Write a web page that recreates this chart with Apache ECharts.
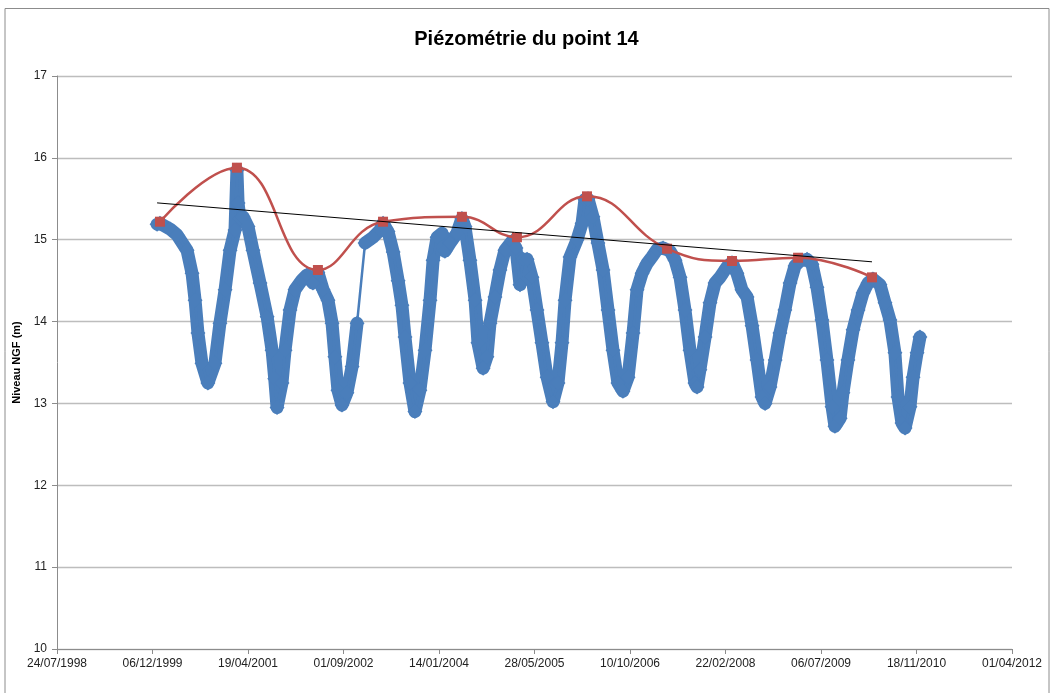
<!DOCTYPE html>
<html>
<head>
<meta charset="utf-8">
<script src="https://cdn.jsdelivr.net/npm/echarts@6/dist/echarts.min.js"></script>
<style>
  html, body { margin: 0; padding: 0; background: #fff; }
  #chart { width: 1053px; height: 693px; }
</style>
</head>
<body>
<div id="chart"></div>
<script>
const blueDates = [
  "1999-12-30", "2000-01-14", "2000-03-07", "2000-04-12", "2000-06-04", "2000-06-30", "2000-07-16", "2000-07-31",
  "2000-08-21", "2000-09-21", "2000-10-28", "2000-11-23", "2000-12-20", "2001-01-15", "2001-02-10", "2001-02-20",
  "2001-02-26", "2001-03-08", "2001-03-24", "2001-04-19", "2001-05-15", "2001-06-21", "2001-07-28", "2001-08-23",
  "2001-09-06", "2001-09-18", "2001-10-14", "2001-10-30", "2001-11-25", "2001-12-21", "2002-01-27", "2002-02-22",
  "2002-03-25", "2002-04-20", "2002-05-17", "2002-06-12", "2002-07-03", "2002-07-18", "2002-08-03", "2002-08-24",
  "2002-09-19", "2002-10-16", "2002-11-11", "2002-12-23", "2003-02-03", "2003-03-12", "2003-03-27", "2003-04-22",
  "2003-05-19", "2003-06-14", "2003-07-04", "2003-07-20", "2003-08-15", "2003-09-10", "2003-10-06", "2003-11-02",
  "2003-11-28", "2003-12-14", "2004-01-04", "2004-01-30", "2004-02-14", "2004-03-12", "2004-04-17", "2004-05-13",
  "2004-05-29", "2004-06-24", "2004-07-21", "2004-08-05", "2004-09-01", "2004-09-21", "2004-10-07", "2004-11-02",
  "2004-11-28", "2004-12-24", "2005-01-30", "2005-02-20", "2005-03-13", "2005-03-29", "2005-04-19", "2005-05-15",
  "2005-06-10", "2005-07-06", "2005-08-02", "2005-09-02", "2005-09-28", "2005-10-19", "2005-11-04", "2005-11-30",
  "2006-01-06", "2006-02-01", "2006-02-16", "2006-03-04", "2006-03-30", "2006-04-25", "2006-05-22", "2006-06-17",
  "2006-07-13", "2006-08-08", "2006-09-03", "2006-09-30", "2006-10-26", "2006-11-16", "2006-12-12", "2007-01-07",
  "2007-02-02", "2007-02-28", "2007-04-01", "2007-05-08", "2007-06-03", "2007-06-29", "2007-07-25", "2007-08-20",
  "2007-09-15", "2007-09-26", "2007-10-11", "2007-11-07", "2007-12-03", "2007-12-29", "2008-01-24", "2008-03-01",
  "2008-03-27", "2008-04-22", "2008-05-18", "2008-06-14", "2008-07-10", "2008-08-05", "2008-08-31", "2008-09-16",
  "2008-10-12", "2008-11-08", "2008-12-03", "2008-12-29", "2009-01-25", "2009-02-20", "2009-03-18", "2009-04-24",
  "2009-05-20", "2009-06-15", "2009-07-11", "2009-08-06", "2009-09-02", "2009-09-17", "2009-10-14", "2009-10-29",
  "2009-11-24", "2009-12-21", "2010-01-16", "2010-02-11", "2010-03-09", "2010-04-04", "2010-05-11", "2010-06-06",
  "2010-07-02", "2010-07-28", "2010-08-13", "2010-09-03", "2010-09-19", "2010-10-15", "2010-10-31", "2010-11-21",
  "2010-12-06"
];
const blueLevels = [
  15.19, 15.2, 15.13, 15.06, 14.87, 14.59, 14.26, 13.86,
  13.49, 13.25, 13.49, 13.98, 14.39, 14.87, 15.12, 15.85,
  15.45, 15.25, 15.28, 15.16, 14.87, 14.47, 14.06, 13.65,
  13.3, 12.95, 13.25, 13.65, 14.14, 14.39, 14.51, 14.57,
  14.47, 14.6, 14.39, 14.26, 13.98, 13.57, 13.16, 12.98,
  13.13, 13.45, 13.98, 14.96, 15.03, 15.12, 15.2, 15.1,
  14.85, 14.5, 14.2, 13.81, 13.25, 12.9, 13.16, 13.65,
  14.26, 14.75, 15.03, 15.08, 14.86, 14.96, 15.08, 15.26,
  15.16, 14.75, 14.26, 13.74, 13.43, 13.57, 13.98, 14.3,
  14.63, 14.87, 14.98, 14.9, 14.45, 14.76, 14.76, 14.54,
  14.14, 13.74, 13.32, 13.02, 13.25, 13.74, 14.26, 14.79,
  15.0, 15.2, 15.49, 15.5, 15.28, 14.96, 14.63, 14.14,
  13.65, 13.25, 13.15, 13.32, 13.86, 14.39, 14.59, 14.71,
  14.79, 14.88, 14.9, 14.86, 14.75, 14.54, 14.14, 13.65,
  13.25, 13.2, 13.41, 13.81, 14.23, 14.47, 14.54, 14.67,
  14.72, 14.59, 14.39, 14.3, 13.95, 13.53, 13.08, 13.0,
  13.2, 13.53, 13.86, 14.14, 14.47, 14.68, 14.74, 14.76,
  14.7, 14.42, 14.02, 13.53, 12.96, 12.72, 12.82, 13.13,
  13.53, 13.9, 14.14, 14.35, 14.47, 14.52, 14.45, 14.23,
  14.02, 13.62, 13.08, 12.76, 12.7, 12.96, 13.32, 13.62,
  13.81
];
// the record jumps here with only a thin connecting line
const blueBreaks = ["2002-11-11"];

const redDates = ["2000-01-14", "2001-02-20", "2002-04-20", "2003-03-27", "2004-05-13", "2005-02-25",
  "2006-02-27", "2007-04-22", "2008-03-27", "2009-03-08", "2010-03-30"];
const redLevels = [15.22, 15.88, 14.63, 15.22, 15.28, 15.03, 15.53, 14.89, 14.74, 14.78, 14.54];

const trendDates = ["1999-12-30", "2010-03-30"];
const trendLevels = [15.45, 14.73];

const xMin = "1998-07-24";
const xMax = "2012-04-01";
const xStepDays = 500;
const yTicks = [10, 11, 12, 13, 14, 15, 16, 17];

// excel-style day numbers (1998-07-24 = 36000)
const EPOCH = Date.UTC(1899, 11, 30);
function serial(s) {
  const [y, m, d] = s.split("-").map(Number);
  return (Date.UTC(y, m - 1, d) - EPOCH) / 864e5;
}
function fmtDate(v) {
  const dt = new Date(EPOCH + Math.round(v) * 864e5);
  const p = (n) => String(n).padStart(2, "0");
  return `${p(dt.getUTCDate())}/${p(dt.getUTCMonth() + 1)}/${dt.getUTCFullYear()}`;
}

const blueFull = blueDates.map((d, i) => [serial(d), blueLevels[i]]);
const blueBand = [];
blueDates.forEach((d, i) => {
  blueBand.push([serial(d), blueLevels[i]]);
  if (blueBreaks.includes(d)) blueBand.push([serial(d) + 1, null]);
});

const chart = echarts.init(document.getElementById("chart"));
const font = "'Liberation Sans', Arial, sans-serif";

chart.setOption({
  animation: false,
  textStyle: { fontFamily: font },
  title: {
    text: "Piézométrie du point 14",
    left: "center",
    top: 24,
    textStyle: { fontSize: 20, fontWeight: "bold", color: "#000", fontFamily: font },
  },
  graphic: [
    {
      type: "polyline",
      shape: { points: [[5, 700], [5, 8.5], [1049, 8.5], [1049, 700]] },
      style: { stroke: "#8c8c8c", lineWidth: 1, fill: null },
      silent: true,
    },
  ],
  grid: { left: 57, right: 41, top: 76, bottom: 44 },
  xAxis: {
    type: "value",
    min: serial(xMin),
    max: serial(xMax),
    interval: xStepDays,
    axisLine: { lineStyle: { color: "#8c8c8c" } },
    axisTick: { show: true, length: 5, lineStyle: { color: "#8c8c8c" } },
    axisLabel: { formatter: fmtDate, fontSize: 12, color: "#222", margin: 9, showMaxLabel: true, showMinLabel: true },
    splitLine: { show: false },
  },
  yAxis: {
    type: "value",
    min: yTicks[0],
    max: yTicks[yTicks.length - 1],
    interval: 1,
    name: "Niveau NGF (m)",
    nameLocation: "middle",
    nameGap: 30,
    nameTextStyle: { fontSize: 11, fontWeight: "bold", color: "#000" },
    axisLine: { show: true, lineStyle: { color: "#8c8c8c" } },
    axisTick: { show: true, length: 5, lineStyle: { color: "#8c8c8c" } },
    axisLabel: { fontSize: 12, color: "#222", margin: 10 },
    splitLine: { lineStyle: { color: "#bdbdbd", width: 1.3 } },
  },
  series: [
    {
      name: "band",
      type: "line",
      data: blueBand,
      connectNulls: false,
      showSymbol: true,
      showAllSymbol: true,
      symbol: "diamond",
      symbolSize: 15,
      itemStyle: { color: "#4a7ebb" },
      lineStyle: { color: "#4a7ebb", width: 13, cap: "round", join: "round" },
      z: 2,
    },
    {
      name: "Piézométrie",
      type: "line",
      data: blueFull,
      showSymbol: false,
      lineStyle: { color: "#4a7ebb", width: 2.5 },
      z: 2,
    },
    {
      name: "Maxima",
      type: "line",
      data: redDates.map((d, i) => [serial(d), redLevels[i]]),
      smooth: 0.45,
      symbol: "rect",
      symbolSize: 10,
      itemStyle: { color: "#c0504d" },
      lineStyle: { color: "#c0504d", width: 2.5 },
      z: 3,
    },
    {
      name: "Tendance",
      type: "line",
      data: trendDates.map((d, i) => [serial(d), trendLevels[i]]),
      symbol: "none",
      lineStyle: { color: "#000", width: 1 },
      z: 4,
    },
  ],
});
</script>
</body>
</html>
